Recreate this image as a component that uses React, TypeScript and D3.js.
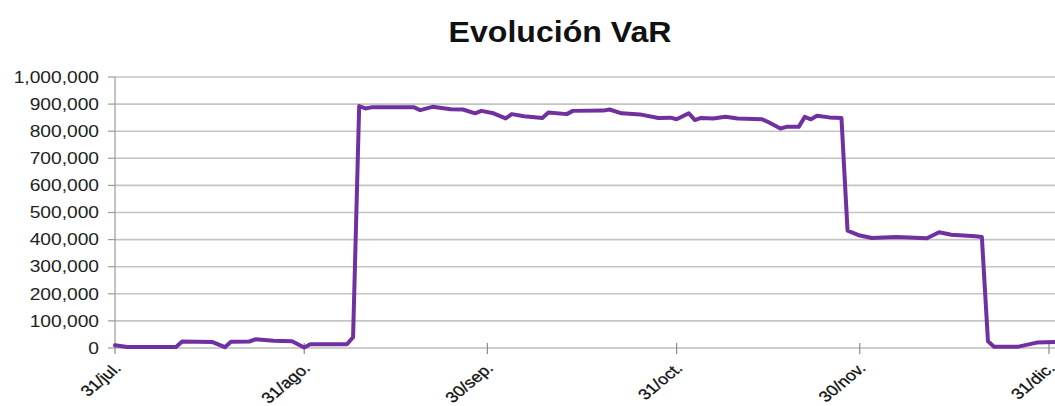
import React, { useRef, useEffect } from "react";
import * as d3 from "d3";

// VaR series
const dates = [
  "2011-07-31", "2011-08-02", "2011-08-10", "2011-08-11", "2011-08-16", "2011-08-18",
  "2011-08-19", "2011-08-22", "2011-08-23", "2011-08-26", "2011-08-29", "2011-08-31",
  "2011-09-01", "2011-09-07", "2011-09-08", "2011-09-09", "2011-09-10", "2011-09-11",
  "2011-09-18", "2011-09-19", "2011-09-21", "2011-09-24", "2011-09-26", "2011-09-28",
  "2011-09-29", "2011-10-01", "2011-10-03", "2011-10-04", "2011-10-06", "2011-10-09",
  "2011-10-10", "2011-10-13", "2011-10-14", "2011-10-19", "2011-10-20", "2011-10-22",
  "2011-10-25", "2011-10-28", "2011-10-30", "2011-10-31", "2011-11-02", "2011-11-03",
  "2011-11-04", "2011-11-06", "2011-11-08", "2011-11-10", "2011-11-14", "2011-11-15",
  "2011-11-17", "2011-11-18", "2011-11-20", "2011-11-21", "2011-11-22", "2011-11-23",
  "2011-11-25", "2011-11-27", "2011-11-28", "2011-11-30", "2011-12-02", "2011-12-06",
  "2011-12-11", "2011-12-13", "2011-12-15", "2011-12-19", "2011-12-20", "2011-12-21",
  "2011-12-22", "2011-12-26", "2011-12-29", "2012-01-01",
];
const values = [
  10000, 4000, 4000, 24000, 22000, 3000,
  23000, 24000, 32000, 27000, 25000, 2000,
  14000, 14000, 40000, 893000, 884000, 888000,
  888000, 878000, 890000, 881000, 880000, 866000,
  875000, 866000, 847000, 863000, 855000, 849000,
  869000, 863000, 875000, 876000, 880000, 866000,
  862000, 849000, 850000, 844000, 866000, 841000,
  849000, 847000, 853000, 847000, 844000, 834000,
  810000, 816000, 816000, 853000, 844000, 857000,
  851000, 849000, 433000, 415000, 406000, 410000,
  405000, 427000, 418000, 412000, 410000, 25000,
  5000, 5000, 20000, 22000,
];

const xTickDates = ["2011-07-31", "2011-08-31", "2011-09-30", "2011-10-31", "2011-11-30", "2011-12-31"];
const xTickLabels = ["31/jul.", "31/ago.", "30/sep.", "31/oct.", "30/nov.", "31/dic."];
const yTicks = [0, 100000, 200000, 300000, 400000, 500000, 600000, 700000, 800000, 900000, 1000000];

const W = 1055;
const H = 406;

export default function App() {
  const svgRef = useRef(null);

  useEffect(() => {
    const svg = d3.select(svgRef.current);
    svg.selectAll("*").remove();

    const parse = d3.timeParse("%Y-%m-%d");
    const data = dates.map((d, i) => ({ date: parse(d) as Date, v: values[i] }));

    const x = d3.scaleTime()
      .domain([parse("2011-07-31") as Date, parse("2011-12-31") as Date])
      .range([115, 1049]);
    const y = d3.scaleLinear().domain([0, 1000000]).range([348, 77]);

    // gridlines
    svg.append("g")
      .selectAll("line")
      .data(yTicks.filter(t => t > 0))
      .join("line")
      .attr("x1", 115).attr("x2", W)
      .attr("y1", d => y(d)).attr("y2", d => y(d))
      .attr("stroke", "#c4c4c4").attr("stroke-width", 1.6);

    // y axis
    svg.append("line")
      .attr("x1", 115).attr("x2", 115).attr("y1", 77).attr("y2", 348)
      .attr("stroke", "#9a9a9a").attr("stroke-width", 1.2);
    svg.append("g")
      .selectAll("line")
      .data(yTicks)
      .join("line")
      .attr("x1", 108).attr("x2", 115)
      .attr("y1", d => y(d)).attr("y2", d => y(d))
      .attr("stroke", "#9a9a9a").attr("stroke-width", 1.2);
    const fmt = d3.format(",");
    svg.append("g")
      .selectAll("text")
      .data(yTicks)
      .join("text")
      .attr("transform", d => `translate(99,${y(d)}) scale(1.2,1)`)
      .attr("dy", "0.36em")
      .attr("text-anchor", "end")
      .attr("font-family", "Liberation Sans, Arial, sans-serif")
      .attr("font-size", 16)
      .attr("fill", "#222")
      .text(d => fmt(d));

    // x axis
    svg.append("line")
      .attr("x1", 115).attr("x2", W).attr("y1", 348).attr("y2", 348)
      .attr("stroke", "#bdbdbd").attr("stroke-width", 1.6);
    const tickDates = xTickDates.map(d => parse(d) as Date);
    svg.append("g")
      .selectAll("line")
      .data(tickDates)
      .join("line")
      .attr("x1", d => x(d)).attr("x2", d => x(d))
      .attr("y1", 343).attr("y2", 354)
      .attr("stroke", "#8a8a8a").attr("stroke-width", 1.2);
    svg.append("g")
      .selectAll("text")
      .data(tickDates)
      .join("text")
      .attr("transform", d => `translate(${x(d) + 7},${369}) scale(1.2,1) rotate(-45)`)
      .attr("text-anchor", "end")
      .attr("font-family", "Liberation Sans, Arial, sans-serif")
      .attr("font-size", 15)
      .attr("fill", "#111")
      .attr("stroke", "#111")
      .attr("stroke-width", 0.3)
      .text((d, i) => xTickLabels[i]);

    // line
    const line = d3.line<{ date: Date; v: number }>()
      .x(d => x(d.date))
      .y(d => y(d.v));
    svg.append("path")
      .datum(data)
      .attr("d", line)
      .attr("fill", "none")
      .attr("stroke", "#7030a0")
      .attr("stroke-width", 4)
      .attr("stroke-linejoin", "round")
      .attr("stroke-linecap", "round");

    // title
    svg.append("text")
      .attr("transform", "translate(560,42) scale(1.07,1)")
      .attr("text-anchor", "middle")
      .attr("font-family", "Liberation Sans, Arial, sans-serif")
      .attr("font-weight", "bold")
      .attr("font-size", 30)
      .attr("fill", "#111")
      .text("Evolución VaR");
  }, []);

  return (
    <svg
      ref={svgRef}
      width={W}
      height={H}
      style={{ position: "absolute", left: 0, top: 0, background: "#fff" }}
    />
  );
}
